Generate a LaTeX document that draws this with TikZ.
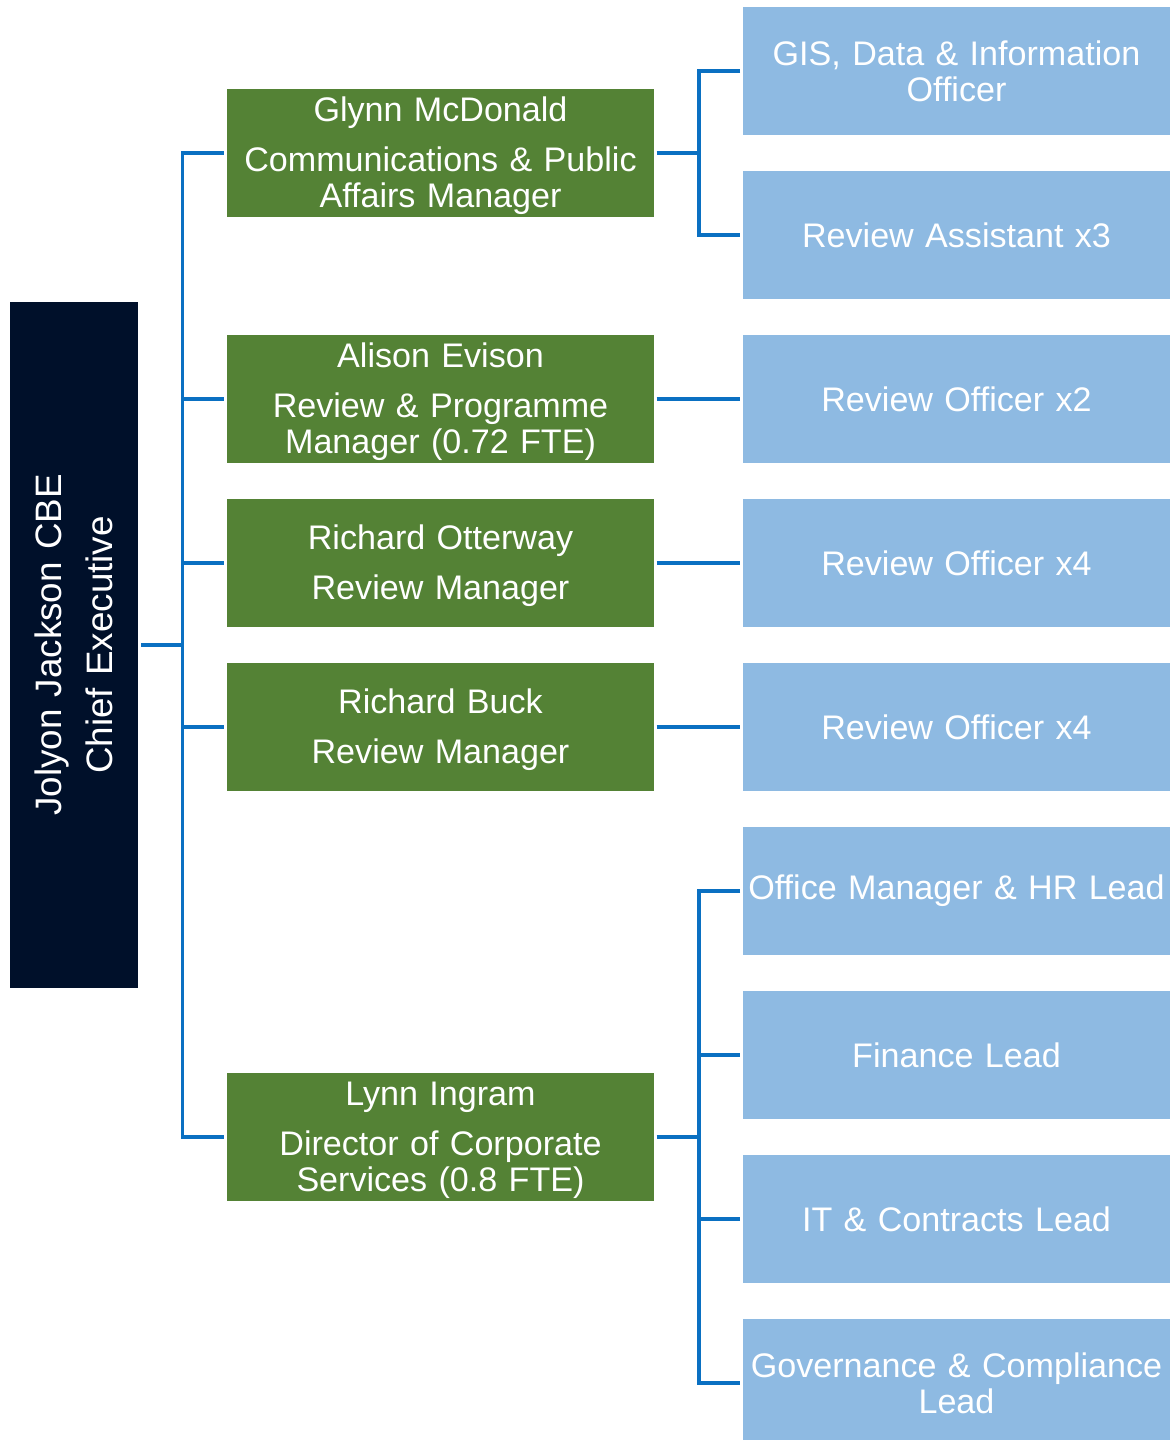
\documentclass[tikz,border=0pt]{standalone}
\usepackage{fontspec}
\setmainfont{Liberation Sans}
\definecolor{navy}{HTML}{00102A}
\definecolor{boxgreen}{HTML}{548235}
\definecolor{boxblue}{HTML}{8EBAE2}
\definecolor{linkblue}{HTML}{0A70C2}
\newcommand{\topstrut}{\rule{0pt}{31pt}}
\begin{document}
\begin{tikzpicture}[x=1pt,y=-1pt,
  every node/.style={inner sep=0pt, outer sep=0pt, text=white, align=center,
    font=\fontsize{34.1}{36}\selectfont},
  mgr/.style={fill=boxgreen, minimum width=427pt, minimum height=128pt, text width=427pt},
  staff/.style={fill=boxblue, minimum width=427pt, minimum height=128pt, text width=427pt},
  chief/.style={fill=navy, minimum width=686pt, minimum height=128pt, text width=686pt, rotate=90,
    font=\fontsize{36.8}{38.5}\selectfont},
  conn/.style={draw=linkblue, line width=3.5pt}]
\useasboundingbox (0,0) rectangle (1171,1440);
\node[chief] (ceo) at (74,645) {Jolyon Jackson CBE\\[12.5pt]Chief Executive};
\node[mgr] (g1) at (440.5,153) {\topstrut Glynn McDonald\\[14pt]Communications \& Public\\Affairs Manager};
\node[mgr] (g2) at (440.5,399) {\topstrut Alison Evison\\[14pt]Review \& Programme\\Manager (0.72 FTE)};
\node[mgr] (g3) at (440.5,563) {\topstrut Richard Otterway\\[14pt]Review Manager};
\node[mgr] (g4) at (440.5,727) {\topstrut Richard Buck\\[14pt]Review Manager};
\node[mgr] (g5) at (440.5,1137) {\topstrut Lynn Ingram\\[14pt]Director of Corporate\\Services (0.8 FTE)};
\node[staff] (s1) at (956.5,71) {GIS, Data \& Information\\Officer};
\node[staff] (s2) at (956.5,235) {Review Assistant x3};
\node[staff] (s3) at (956.5,399) {Review Officer x2};
\node[staff] (s4) at (956.5,563) {Review Officer x4};
\node[staff] (s5) at (956.5,727) {Review Officer x4};
\node[staff] (s6) at (956.5,891) {Office Manager \& HR Lead};
\node[staff] (s7) at (956.5,1055) {Finance Lead};
\node[staff] (s8) at (956.5,1219) {IT \& Contracts Lead};
\node[staff] (s9) at (956.5,1383) {Governance \& Compliance\\Lead};
\coordinate (busA) at (182.5,0);
\coordinate (busB) at (699,0);
% CEO to managers
\draw[conn, shorten <=3pt] (ceo.south) -- (ceo.south -| busA);
\draw[conn, shorten <=3.5pt, shorten >=3.5pt] (g1.west) -- (g1.west -| busA) -- (g5.west -| busA) -- (g5.west);
\foreach \g in {g2,g3,g4}{
  \draw[conn, shorten >=3.5pt] (\g.west -| busA) -- (\g.west);
}
% Glynn to staff
\draw[conn, shorten <=2.5pt] (g1.east) -- (g1.east -| busB);
\draw[conn, shorten <=3pt, shorten >=3pt] (s1.west) -- (s1.west -| busB) -- (s2.west -| busB) -- (s2.west);
% single links
\draw[conn, shorten <=2.5pt, shorten >=3pt] (g2.east) -- (s3.west);
\draw[conn, shorten <=2.5pt, shorten >=3pt] (g3.east) -- (s4.west);
\draw[conn, shorten <=2.5pt, shorten >=3pt] (g4.east) -- (s5.west);
% Lynn to staff
\draw[conn, shorten <=2.5pt] (g5.east) -- (g5.east -| busB);
\draw[conn, shorten <=3pt, shorten >=3pt] (s6.west) -- (s6.west -| busB) -- (s9.west -| busB) -- (s9.west);
\foreach \s in {s7,s8}{
  \draw[conn, shorten >=3pt] (\s.west -| busB) -- (\s.west);
}
\end{tikzpicture}
\end{document}
